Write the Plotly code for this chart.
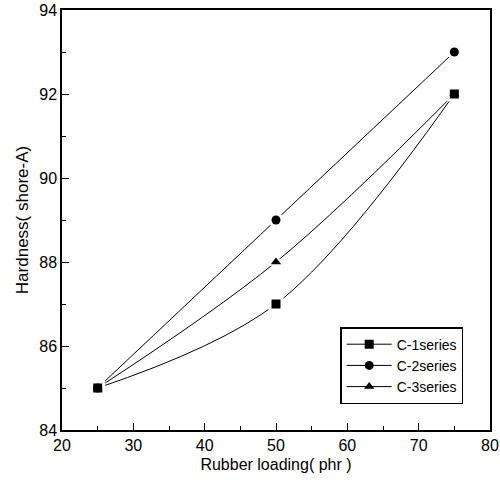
import plotly.graph_objects as go

rubber_loading = [25, 50, 75]
c1_hardness = [85, 87, 92]
c2_hardness = [85, 89, 93]
c3_hardness = [85, 88, 92]

series = [
    ("C-1series", c1_hardness, "square"),
    ("C-2series", c2_hardness, "circle"),
    ("C-3series", c3_hardness, "triangle-up"),
]

fig = go.Figure()

# smooth curves
for name, values, symbol in series:
    fig.add_trace(go.Scatter(
        x=rubber_loading, y=values, mode="lines", showlegend=False,
        line=dict(color="black", width=1, shape="spline", smoothing=1.0),
        hoverinfo="skip",
    ))

# white halo under each symbol so curves stop short of the markers
for name, values, symbol in series:
    fig.add_trace(go.Scatter(
        x=rubber_loading, y=values, mode="markers", showlegend=False,
        marker=dict(symbol=symbol, size=15, color="white"),
        hoverinfo="skip",
    ))

# black symbols
for name, values, symbol in series:
    fig.add_trace(go.Scatter(
        x=rubber_loading, y=values, mode="markers", name=name, showlegend=False,
        marker=dict(symbol=symbol, size=9, color="black"),
    ))

# legend entries
for name, values, symbol in series:
    fig.add_trace(go.Scatter(
        x=[None], y=[None], mode="lines+markers", name=name,
        line=dict(color="black", width=1),
        marker=dict(symbol=symbol, size=9, color="black"),
    ))

axis_common = dict(
    showgrid=False, zeroline=False, automargin=False,
    showline=True, linecolor="black", linewidth=1.5, mirror=True,
    ticks="inside", ticklen=7, tickwidth=1.2, tickcolor="black",
    tickfont=dict(family="Liberation Sans, Arial, sans-serif", size=16, color="black"),
)

fig.update_layout(
    width=500, height=483,
    margin=dict(l=62, r=10, t=10, b=53),
    paper_bgcolor="white", plot_bgcolor="white",
    font=dict(family="Liberation Sans, Arial, sans-serif", color="black"),
    xaxis=dict(
        range=[20, 80], dtick=10,
        minor=dict(ticks="inside", dtick=5, ticklen=4, tickcolor="black"),
        title=dict(text="Rubber loading( phr )", font=dict(size=16), standoff=6),
        **axis_common,
    ),
    yaxis=dict(
        range=[84, 94], dtick=2,
        minor=dict(ticks="inside", dtick=1, ticklen=4, tickcolor="black"),
        title=dict(text="Hardness( shore-A)", font=dict(size=17), standoff=6),
        **axis_common,
    ),
    legend=dict(
        x=0.65, y=0.245, xanchor="left", yanchor="top",
        bordercolor="black", borderwidth=1.5, bgcolor="white",
        font=dict(size=14), itemwidth=45, tracegroupgap=0,
    ),
    showlegend=True,
)

fig.write_html("out.html")
